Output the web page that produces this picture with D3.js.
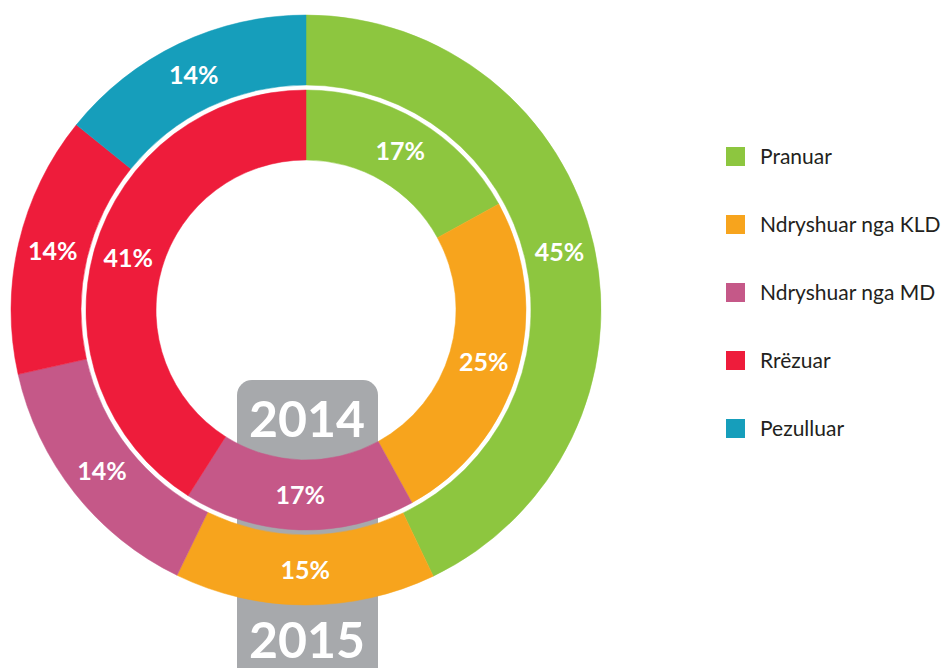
<!DOCTYPE html>
<html>
<head>
<meta charset="utf-8">
<script src="https://cdn.jsdelivr.net/npm/d3@7"></script>
<style>
  body { margin: 0; background: #fff; }
  svg { display: block; }
</style>
</head>
<body>
<script>
// categories and colours (legend order)
const categories = ["Pranuar", "Ndryshuar nga KLD", "Ndryshuar nga MD", "Rrëzuar", "Pezulluar"];
const colors = ["#8dc63f", "#f7a41d", "#c55888", "#ee1c3b", "#169ebb"];

const values2015 = [42.9, 14.3, 14.3, 14.3, 14.2];
const labels2015 = ["45%", "15%", "14%", "14%", "14%"];

// 2014 (inner ring)
const values2014 = [17, 25, 17, 41, 0];
const labels2014 = ["17%", "25%", "17%", "41%", ""];

const years = ["2014", "2015"];

const width = 952, height = 668;
const cx = 306, cy = 310;

const svg = d3.select("body").append("svg")
  .attr("width", width).attr("height", height);

// grey year tabs sit behind the rings
const tabs = svg.append("g");
tabs.append("rect").attr("x", 237).attr("y", 380).attr("width", 141).attr("height", 160)
  .attr("rx", 15).attr("fill", "#a7a9ac");
tabs.append("rect").attr("x", 237).attr("y", 520).attr("width", 141).attr("height", 200)
  .attr("rx", 15).attr("fill", "#a7a9ac");
tabs.selectAll("text").data(years).join("text")
  .attr("x", cx + 1)
  .attr("y", (d, i) => i === 0 ? 437 : 658)
  .attr("text-anchor", "middle")
  .attr("fill", "#fff")
  .style("font", "bold 50px Lato, sans-serif")
  .text(d => d);

const pie = d3.pie().sort(null).value(d => d.value);
const g = svg.append("g").attr("transform", `translate(${cx},${cy})`);

function ring(values, labels, r0, r1, cls) {
  const data = values.map((v, i) => ({ value: v, color: colors[i], label: labels[i] }));
  const arcs = pie(data).filter(d => d.data.value > 0);
  const arc = d3.arc().innerRadius(r0).outerRadius(r1);
  const lab = d3.arc().innerRadius((r0 + r1) / 2).outerRadius((r0 + r1) / 2);
  const rg = g.append("g").attr("class", cls);
  rg.selectAll("path").data(arcs).join("path")
    .attr("d", arc)
    .attr("fill", d => d.data.color)
    .attr("stroke", d => d.data.color)
    .attr("stroke-width", 0.5);
  rg.selectAll("text").data(arcs).join("text")
    .attr("transform", d => `translate(${lab.centroid(d)})`)
    .attr("text-anchor", "middle")
    .attr("dy", "0.36em")
    .attr("fill", "#fff")
    .style("font", "bold 25px Lato, sans-serif")
    .text(d => d.data.label);
}

ring(values2015, labels2015, 225, 295, "outer");
ring(values2014, labels2014, 150, 220, "inner");

// legend
const legend = svg.append("g").attr("transform", "translate(726,147)");
const item = legend.selectAll("g").data(categories).join("g")
  .attr("transform", (d, i) => `translate(0,${i * 68})`);
item.append("rect").attr("width", 19).attr("height", 19).attr("fill", (d, i) => colors[i]);
item.append("text")
  .attr("x", 34).attr("y", 9.5).attr("dy", "0.36em")
  .attr("fill", "#231f20")
  .style("font", "21px Lato, sans-serif")
  .text(d => d);
</script>
</body>
</html>
